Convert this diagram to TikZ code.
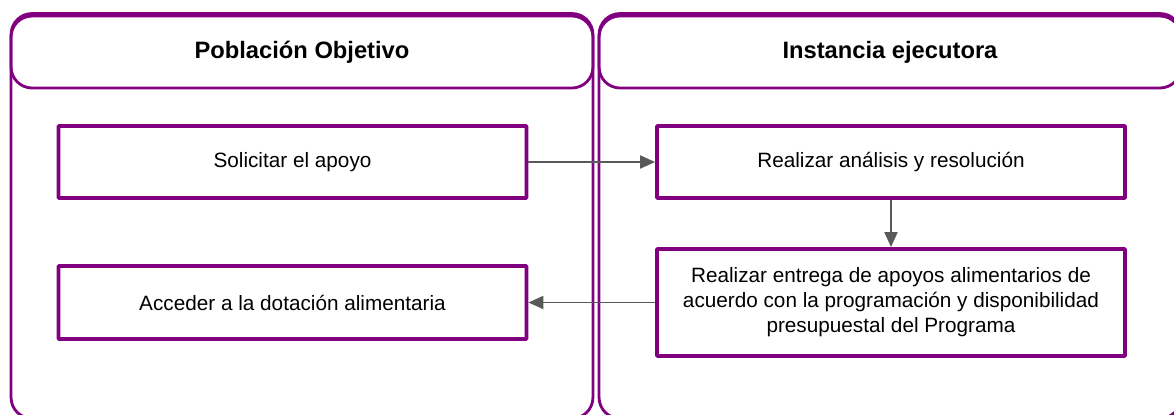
\documentclass[tikz,border=0pt]{standalone}
\usepackage{fontspec}
\setmainfont{Liberation Sans}
\usetikzlibrary{arrows.meta}

\definecolor{lanepurple}{HTML}{800080}
\definecolor{arrowgray}{HTML}{595959}

\tikzstyle{lane}=[draw=lanepurple,line width=1.6pt,rounded corners=0.42cm,minimum width=11.64cm,minimum height=8.1cm]
\tikzstyle{lanehead}=[draw=lanepurple,line width=1.6pt,rounded corners=0.42cm,minimum width=11.64cm,minimum height=1.44cm,font=\fontsize{13.5}{16}\selectfont\bfseries]
\tikzstyle{act}=[draw=lanepurple,line width=2.2pt,rounded corners=0.5pt,minimum width=9.36cm,inner sep=2pt,align=center,font=\fontsize{11.8}{14.2}\selectfont]
\tikzstyle{flow}=[draw=arrowgray,line width=1.1pt,-{Triangle[length=0.3cm,width=0.26cm]}]

\begin{document}
\begin{tikzpicture}[x=0.02cm,y=-0.02cm]

        \useasboundingbox (0,0) rectangle (1174,414);
        \clip (0,0) rectangle (1174,414);
        %
        \draw (302,216) node[lane](lanePO){};
        \draw (890,216) node[lane](laneIE){};
        \draw (302,52) node[lanehead](headPO){Población Objetivo};
        \draw (890,52) node[lanehead](headIE){Instancia ejecutora};
        %
        \draw (292.5,162) node[act,minimum height=1.44cm](solicitar){Solicitar el apoyo};
        \draw (891,162) node[act,minimum height=1.44cm](analisis){Realizar análisis y resolución};
        \draw (891,302.5) node[act,minimum height=2.14cm](entrega){Realizar entrega de apoyos alimentarios de\\acuerdo con la programación y disponibilidad\\presupuestal del Programa};
        \draw (292.5,302.5) node[act,minimum height=1.46cm](acceder){Acceder a la dotación alimentaria};
        %
        \path
            (solicitar.east)    edge[flow]      (analisis.west)
            (analisis.south)    edge[flow]      (entrega.north)
            (entrega.west)      edge[flow]      (acceder.east)
        ;
\end{tikzpicture}
\end{document}
